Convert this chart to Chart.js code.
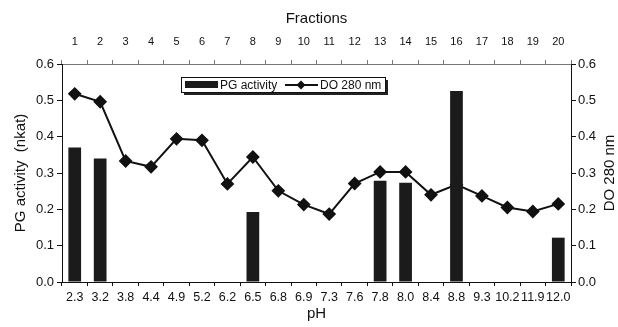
<!DOCTYPE html>
<html>
<head>
<meta charset="utf-8">
<script src="https://cdn.jsdelivr.net/npm/chart.js@4"></script>
<style>
  html, body { margin: 0; padding: 0; background: #fff; }
  #wrap { width: 618px; height: 327px; }
</style>
</head>
<body>
<div id="wrap"><canvas id="chart" width="618" height="327"></canvas></div>
<script>
// --- data ---
const phLabels = ['2.3','3.2','3.8','4.4','4.9','5.2','6.2','6.5','6.8','6.9','7.3','7.6','7.8','8.0','8.4','8.8','9.3','10.2','11.9','12.0'];
const fractionLabels = ['1','2','3','4','5','6','7','8','9','10','11','12','13','14','15','16','17','18','19','20'];
const pgActivity = [0.37, 0.34, null, null, null, null, null, 0.193, null, null, null, null, 0.279, 0.273, null, 0.526, null, null, null, 0.122];
const do280 = [0.518, 0.496, 0.333, 0.317, 0.394, 0.390, 0.270, 0.344, 0.251, 0.213, 0.187, 0.271, 0.303, 0.303, 0.240, 0.268, 0.237, 0.205, 0.194, 0.215];
const valueTicks = [0, 0.1, 0.2, 0.3, 0.4, 0.5, 0.6];
const rightTitle = 'DO 280 nm';

const FONT = "'Liberation Sans', Arial, sans-serif";
const ink = '#111';

// legend box inside the plot + right axis title reading bottom-to-top
const extras = {
  id: 'extras',
  afterDatasetsDraw(chart) {
    const ctx = chart.ctx;
    const x = 181, y = 77, w = 204, h = 15;
    ctx.save();
    ctx.fillStyle = '#222';
    ctx.fillRect(x + 3, y + 3, w, h);
    ctx.fillStyle = '#fff';
    ctx.fillRect(x, y, w, h);
    ctx.strokeStyle = ink;
    ctx.lineWidth = 1;
    ctx.strokeRect(x + 0.5, y + 0.5, w, h);

    // bar swatch
    ctx.fillStyle = '#1b1b1b';
    ctx.fillRect(x + 4, y + 4, 33, 7);
    ctx.font = '12px ' + FONT;
    ctx.fillStyle = ink;
    ctx.textBaseline = 'middle';
    ctx.fillText(chart.data.datasets[0].label, x + 39, y + h / 2 + 1);

    // line swatch
    const ly = y + h / 2 + 0.5;
    ctx.beginPath();
    ctx.moveTo(x + 104, ly);
    ctx.lineTo(x + 137, ly);
    ctx.lineWidth = 2;
    ctx.stroke();
    ctx.beginPath();
    const cx = x + 120, r = 4.5;
    ctx.moveTo(cx, ly - r); ctx.lineTo(cx + r, ly); ctx.lineTo(cx, ly + r); ctx.lineTo(cx - r, ly);
    ctx.closePath();
    ctx.fill();
    ctx.fillText(chart.data.datasets[1].label, x + 139, y + h / 2 + 1);
    ctx.restore();
  },
  afterDraw(chart) {
    const ctx = chart.ctx;
    const a = chart.chartArea;
    ctx.save();
    ctx.translate(610, (a.top + a.bottom) / 2);
    ctx.rotate(-Math.PI / 2);
    ctx.font = '15px ' + FONT;
    ctx.fillStyle = ink;
    ctx.textAlign = 'center';
    ctx.textBaseline = 'middle';
    ctx.fillText(rightTitle, 0, 0);
    ctx.restore();
  }
};

new Chart(document.getElementById('chart'), {
  type: 'bar',
  data: {
    labels: phLabels,
    datasets: [
      {
        type: 'bar',
        label: 'PG activity',
        data: pgActivity,
        backgroundColor: '#1b1b1b',
        barPercentage: 0.5,
        categoryPercentage: 1,
        yAxisID: 'y',
        xAxisID: 'x',
        order: 0,
      },
      {
        type: 'line',
        label: 'DO 280 nm',
        data: do280,
        borderColor: ink,
        backgroundColor: ink,
        borderWidth: 2,
        tension: 0,
        pointStyle: 'rectRot',
        pointRadius: 5.5,
        yAxisID: 'y2',
        xAxisID: 'x',
        order: 1,
      }
    ]
  },
  options: {
    responsive: false,
    animation: false,
    layout: { padding: 0 },
    plugins: { legend: { display: false }, tooltip: { enabled: false } },
    scales: {
      x: {
        position: 'bottom',
        grid: { drawOnChartArea: false, offset: true, color: ink, tickLength: 4 },
        border: { color: ink },
        ticks: { color: ink, font: { family: FONT, size: 12.5 }, padding: 4, maxRotation: 0, autoSkip: false },
        title: { display: true, text: 'pH', color: ink, font: { family: FONT, size: 15 }, padding: { top: 0, bottom: 4 } },
        afterFit(s) { s.height = 45; }
      },
      x2: {
        type: 'category',
        labels: fractionLabels,
        position: 'top',
        offset: true,
        grid: { drawOnChartArea: false, offset: true, color: '#777', tickLength: 4 },
        border: { color: '#777' },
        ticks: { color: ink, font: { family: FONT, size: 11 }, padding: 11, maxRotation: 0, autoSkip: false },
        title: { display: true, text: 'Fractions', color: ink, font: { family: FONT, size: 15 }, padding: { top: 10, bottom: 0 } },
        afterFit(s) { s.height = 64; }
      },
      y: {
        position: 'left',
        min: 0, max: 0.6,
        afterBuildTicks(s) { s.ticks = valueTicks.map(v => ({ value: v })); },
        grid: { drawOnChartArea: false, color: ink, tickLength: 5 },
        border: { color: ink },
        ticks: { color: ink, font: { family: FONT, size: 13 }, padding: 3, callback: v => v.toFixed(1) },
        title: { display: true, text: 'PG activity  (nkat)', color: ink, font: { family: FONT, size: 15 }, padding: { top: 12, bottom: 0 } },
        afterFit(s) { s.width = 62; }
      },
      y2: {
        position: 'right',
        min: 0, max: 0.6,
        afterBuildTicks(s) { s.ticks = valueTicks.map(v => ({ value: v })); },
        grid: { drawOnChartArea: false, color: ink, tickLength: 5 },
        border: { color: ink },
        ticks: { color: ink, font: { family: FONT, size: 13 }, padding: 2, callback: v => v.toFixed(1) },
        title: { display: false },
        afterFit(s) { s.width = 47; }
      }
    }
  },
  plugins: [extras]
});
</script>
</body>
</html>
